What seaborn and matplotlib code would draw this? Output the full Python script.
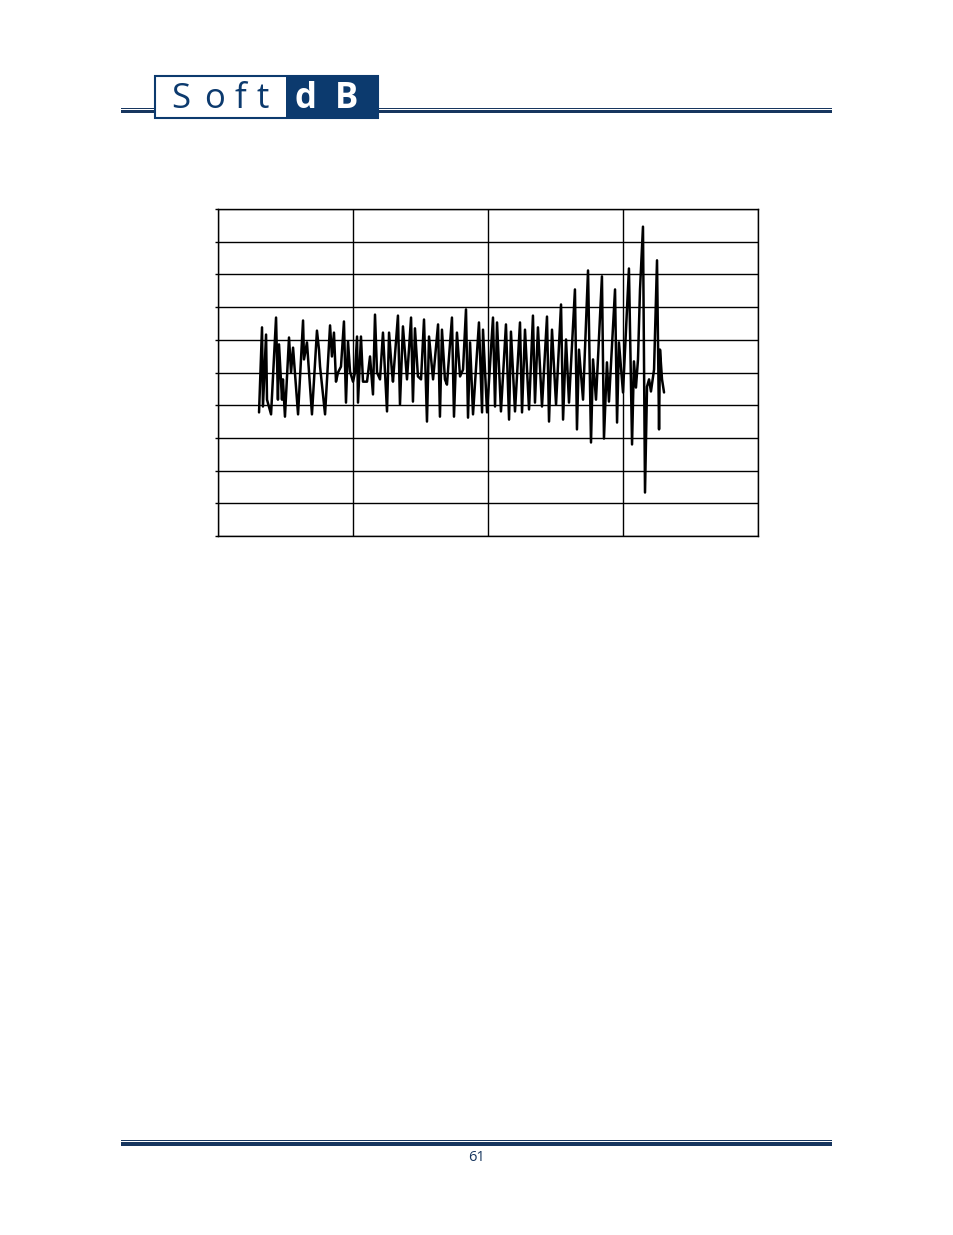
import matplotlib
matplotlib.use("Agg")
import matplotlib.pyplot as plt
from matplotlib.patches import Rectangle
import seaborn as sns
import pandas as pd
import numpy as np

# waveform (time units along x, amplitude along y)
time = [0.304, 0.326, 0.333, 0.356, 0.363, 0.393, 0.430, 0.444, 0.452, 0.474,
        0.481, 0.496, 0.526, 0.541, 0.556, 0.593, 0.630, 0.637, 0.659, 0.696,
        0.733, 0.748, 0.756, 0.793, 0.830, 0.844, 0.859, 0.874, 0.889, 0.911,
        0.933, 0.948, 0.963, 0.978, 1.000, 1.015, 1.030, 1.037, 1.059, 1.074,
        1.104, 1.126, 1.148, 1.163, 1.178, 1.200, 1.222, 1.252, 1.267, 1.289,
        1.296, 1.333, 1.348, 1.370, 1.400, 1.430, 1.444, 1.459, 1.481, 1.504,
        1.526, 1.548, 1.563, 1.593, 1.630, 1.644, 1.659, 1.681, 1.696, 1.733,
        1.748, 1.770, 1.793, 1.815, 1.837, 1.852, 1.867, 1.889, 1.933, 1.956,
        1.963, 1.993, 2.037, 2.052, 2.067, 2.096, 2.133, 2.156, 2.170, 2.200,
        2.237, 2.252, 2.274, 2.304, 2.333, 2.348, 2.370, 2.400, 2.437, 2.452,
        2.474, 2.504, 2.541, 2.556, 2.578, 2.600, 2.644, 2.659, 2.674, 2.704,
        2.741, 2.763, 2.778, 2.800, 2.844, 2.859, 2.881, 2.896, 2.941, 2.956,
        2.970, 3.000, 3.044, 3.067, 3.081, 3.096, 3.111, 3.126, 3.148, 3.163,
        3.178, 3.193, 3.207, 3.230, 3.252, 3.267, 3.274, 3.289, 3.304]
amplitude = [-1.22, 1.38, -1.04, 1.16, -0.83, -1.28, 1.68, -0.83, 0.86, -0.83,
             -0.21, -1.35, 1.07, 0.00, 0.76, -1.28, 1.59, 0.40, 0.92, -1.28,
             1.28, 0.70, 0.18, -1.28, 1.44, 0.49, 1.22, -0.28, 0.00, 0.18,
             1.56, -0.92, 0.95, 0.03, -0.28, 0.00, 1.10, -0.92, 1.10, -0.28,
             -0.28, 0.49, -0.67, 1.77, 0.00, -0.21, 1.22, -1.19, 1.22, 0.00,
             -0.28, 1.74, -0.98, 1.41, -0.21, 1.68, -0.89, 1.35, -0.12, -0.21,
             1.62, -1.50, 1.10, -0.21, 1.47, -1.35, 1.31, -0.21, -0.37, 1.68,
             -1.35, 1.22, -0.12, 0.09, 1.93, -1.38, 0.92, -1.28, 1.53, -1.22,
             1.31, -1.22, 1.68, -1.04, 1.53, -1.19, 1.47, -1.44, 1.25, -1.19,
             1.53, -1.22, 1.31, -1.13, 1.74, -0.92, 1.38, -1.04, 1.71, -1.50,
             1.31, -0.98, 2.08, -1.44, 1.01, -0.92, 2.54, -1.74, 0.70, -0.83,
             3.12, -2.14, 0.40, -0.83, 2.94, -2.02, 0.31, -0.89, 2.54, -1.53,
             0.92, -0.61, 3.18, -2.20, 0.34, -0.46, 0.40, 2.54, 4.46, -3.67,
             -0.43, -0.21, -0.58, 0.09, 3.43, -1.74, 0.70, -0.21, -0.61]

x_ticks = [0, 1, 2, 3, 4]
y_ticks = [-5, -4, -3, -2, -1, 0, 1, 2, 3, 4, 5]

df = pd.DataFrame({"time": time, "amplitude": amplitude})

W, H = 954, 1235
navy = "#0c3a6e"
line_navy = "#17365f"

sns.set_style("white")
fig = plt.figure(figsize=(W / 100, H / 100), dpi=100)

# page decoration drawn in pixel coordinates
page = fig.add_axes([0, 0, 1, 1])
page.set_xlim(0, W)
page.set_ylim(H, 0)
page.axis("off")

# header rules
for x0, w in [(121, 34), (378, 454)]:
    page.add_patch(Rectangle((x0, 107.5), w, 1.2, color=line_navy, lw=0))
    page.add_patch(Rectangle((x0, 110), w, 3, color=line_navy, lw=0))

# logo
page.add_patch(Rectangle((155.5, 76), 222.5, 41.5, facecolor="white", edgecolor=navy, lw=1.5))
page.add_patch(Rectangle((286, 76), 92, 41.5, facecolor=navy, edgecolor=navy, lw=0))
for ch, xp in zip("Soft", [181, 215, 240, 263]):
    page.text(xp, 108, ch, color=navy, fontsize=25, family="Open Sans",
              ha="center", va="baseline")
for ch, xp in zip("dB", [306, 347]):
    page.text(xp, 108, ch, color="white", fontsize=25, family="Open Sans",
              fontweight="bold", ha="center", va="baseline")

# footer rules and page number
page.add_patch(Rectangle((121, 1139.5), 711, 1.2, color=line_navy, lw=0))
page.add_patch(Rectangle((121, 1142), 711, 4, color=line_navy, lw=0))
page.text(476.5, 1157.5, "61", color=line_navy, fontsize=10.5, family="Open Sans",
          ha="center", va="center")

# chart
ax = fig.add_axes([218 / W, 1 - 536 / H, 540 / W, 327 / H])
sns.lineplot(data=df, x="time", y="amplitude", ax=ax, color="black",
             linewidth=1.8, sort=False, estimator=None,
             solid_joinstyle="round", solid_capstyle="round")
ax.set_xlim(x_ticks[0], x_ticks[-1])
ax.set_ylim(y_ticks[0], y_ticks[-1])
ax.set_xticks(x_ticks)
ax.set_yticks(y_ticks)
ax.set_xticklabels([])
ax.set_yticklabels([])
ax.set_xlabel("")
ax.set_ylabel("")
ax.grid(True, color="black", linewidth=1.0)
ax.set_axisbelow(True)
ax.tick_params(axis="x", length=0)
ax.tick_params(axis="y", left=True, length=2.5, width=1.0, color="black", direction="out")
for s in ax.spines.values():
    s.set_color("black")
    s.set_linewidth(1.0)

fig.savefig("out.png", dpi=100)
